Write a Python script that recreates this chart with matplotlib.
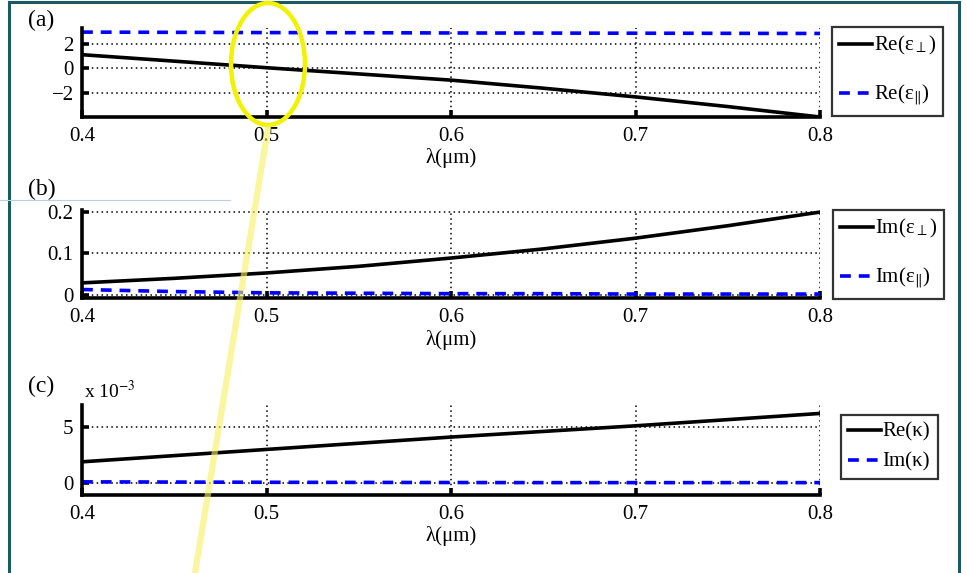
import matplotlib
matplotlib.use("Agg")
import matplotlib.pyplot as plt
from matplotlib.patches import Ellipse
from matplotlib.lines import Line2D
from matplotlib.ticker import FuncFormatter

plt.rcParams['font.family'] = ['Liberation Serif', 'DejaVu Serif']
plt.rcParams['mathtext.fontset'] = 'stix'

# ---- data ----
wavelength = [0.40, 0.45, 0.50, 0.55, 0.60, 0.65, 0.70, 0.75, 0.80]
re_eps_perp = [1.10, 0.58, 0.05, -0.45, -0.95, -1.60, -2.30, -3.08, -3.92]
re_eps_par = [2.92, 2.90, 2.88, 2.87, 2.85, 2.84, 2.83, 2.82, 2.81]
im_eps_perp = [0.029, 0.040, 0.053, 0.069, 0.089, 0.111, 0.137, 0.167, 0.200]
im_eps_par = [0.013, 0.008, 0.005, 0.004, 0.003, 0.003, 0.002, 0.002, 0.002]
re_kappa = [1.9e-3, 2.45e-3, 3.0e-3, 3.55e-3, 4.1e-3, 4.6e-3, 5.1e-3, 5.65e-3, 6.2e-3]
im_kappa = [0.12e-3, 0.10e-3, 0.08e-3, 0.07e-3, 0.06e-3, 0.05e-3, 0.05e-3, 0.05e-3, 0.05e-3]

x_ticks = [0.4, 0.5, 0.6, 0.7, 0.8]
xlabel = 'λ(μm)'

W, H = 967, 573
fig = plt.figure(figsize=(W / 100, H / 100), dpi=100)

def fx(px):
    return px / W

def fy(py):
    return 1 - py / H

FS = 15

def make_axes(top, bottom):
    ax = fig.add_axes([fx(82), fy(bottom), fx(820) - fx(82), fy(top) - fy(bottom)])
    ax.set_xlim(0.4, 0.8)
    ax.set_xticks(x_ticks)
    ax.set_xticklabels([f'{t:.1f}' for t in x_ticks])
    for s in ['top', 'right']:
        ax.spines[s].set_visible(False)
    for s in ['left', 'bottom']:
        ax.spines[s].set_linewidth(2.6)
    ax.tick_params(direction='in', length=5, width=2.6, labelsize=FS)
    ax.tick_params(axis='x', pad=7)
    ax.tick_params(axis='y', pad=6)
    ax.grid(True, linestyle=(0, (1, 2.2)), color='black', linewidth=1.1)
    ax.set_xlabel(xlabel, fontsize=FS, labelpad=2)
    return ax

# (a)
ax1 = make_axes(28, 117)
ax1.plot(wavelength, re_eps_perp, color='black', lw=2.6, label=r'Re(ε$_{\perp}$)')
ax1.plot(wavelength, re_eps_par, color='#0000ff', lw=2.6, ls=(0, (3, 2.2)), label=r'Re(ε$_{\|}$)')
ax1.set_ylim(-3.92, 3.25)
ax1.set_yticks([-2, 0, 2])
ax1.set_yticklabels(['−2', '0', '2'])

# (b)
ax2 = make_axes(210, 298)
ax2.plot(wavelength, im_eps_perp, color='black', lw=2.6, label=r'Im(ε$_{\perp}$)')
ax2.plot(wavelength, im_eps_par, color='#0000ff', lw=2.6, ls=(0, (3, 2.2)), label=r'Im(ε$_{\|}$)')
ax2.set_ylim(-0.0075, 0.205)
ax2.set_yticks([0, 0.1, 0.2])
ax2.set_yticklabels(['0', '0.1', '0.2'])

# (c)
ax3 = make_axes(405, 495)
ax3.plot(wavelength, re_kappa, color='black', lw=2.6, label='Re(κ)')
ax3.plot(wavelength, im_kappa, color='#0000ff', lw=2.6, ls=(0, (3, 2.2)), label='Im(κ)')
ax3.set_ylim(-1.05e-3, 6.95e-3)
ax3.set_yticks([0, 5e-3])
ax3.yaxis.set_major_formatter(FuncFormatter(lambda v, p: f'{v * 1e3:g}'))
fig.text(fx(84), fy(391), r'x 10$^{-3}$', fontsize=FS - 1, ha='left', va='center')

# legends
for ax, (lx, ly), lsp in [(ax1, (832, 27), 1.2), (ax2, (833, 210), 1.2), (ax3, (841, 415), 0.5)]:
    leg = ax.legend(loc='upper left', bbox_to_anchor=(fx(lx), fy(ly)),
                    bbox_transform=fig.transFigure, fontsize=FS, frameon=True,
                    fancybox=False, edgecolor='black', handlelength=1.55,
                    handletextpad=0.1, labelspacing=lsp, borderpad=0.35,
                    borderaxespad=0)
    leg.get_frame().set_linewidth(1.6)

# panel labels
for lab, ypx in [('(a)', 20), ('(b)', 189), ('(c)', 386)]:
    fig.text(fx(28), fy(ypx), lab, fontsize=FS + 2, ha='left', va='center')

# slide frame
frame_col = '#1d5866'
fig.add_artist(Line2D([fx(9), fx(9)], [fy(2), 0], transform=fig.transFigure, color=frame_col, lw=2.2))
fig.add_artist(Line2D([fx(959), fx(959)], [fy(2), 0], transform=fig.transFigure, color=frame_col, lw=2.2))
fig.add_artist(Line2D([fx(9), fx(959)], [fy(2), fy(2)], transform=fig.transFigure, color=frame_col, lw=2.2))
fig.add_artist(Line2D([0, fx(230)], [fy(200), fy(200)], transform=fig.transFigure, color='#b8d0e4', lw=0.8))

# annotation: yellow ellipse and pointer line
ell = Ellipse((fx(268), fy(64)), width=fx(74), height=122 / H, transform=fig.transFigure,
              fill=False, edgecolor='#f2f200', lw=3.2, zorder=10)
fig.add_artist(ell)
fig.add_artist(Line2D([fx(268), fx(195)], [fy(128), fy(573)], transform=fig.transFigure,
                      color='#f5f060', alpha=0.6, lw=4.5, zorder=10))

fig.savefig('out.png', dpi=100)
